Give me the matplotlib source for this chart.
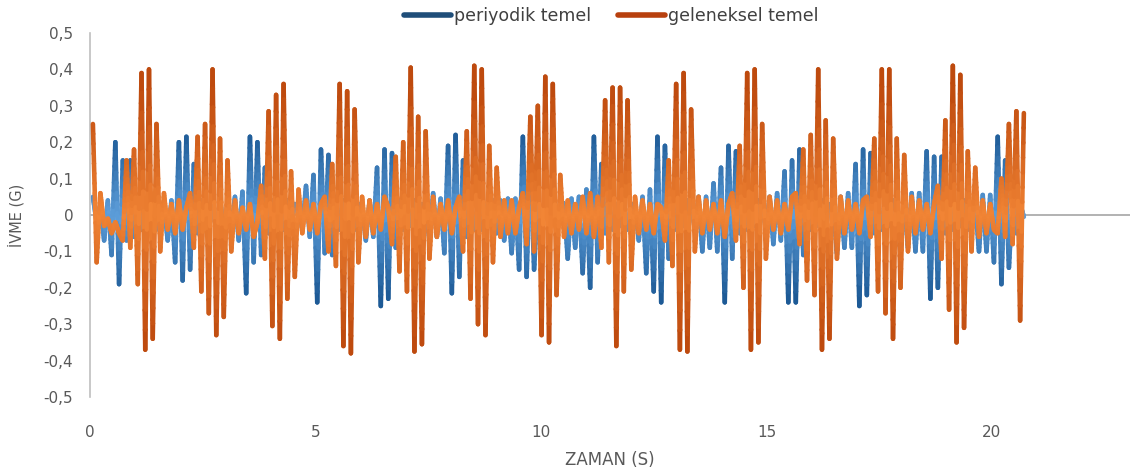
import numpy as np
import matplotlib
matplotlib.use("Agg")
import matplotlib.pyplot as plt
from matplotlib.lines import Line2D
from matplotlib.collections import LineCollection
from matplotlib.colors import to_rgb
from matplotlib.ticker import FuncFormatter

plt.rcParams['font.family'] = ['DejaVu Sans']

# sampling grid (s)
t_start = 0.0645
t_step = 0.0829
n_samples = 250

periyodik = [
    0.05, -0.02, 0.03, -0.07, 0.04, -0.11, 0.20, -0.19, 0.15, -0.07,
    0.15, -0.06, 0.05, -0.04, 0.04, -0.03, 0.03, -0.04, 0.03, 0.03,
    -0.07, 0.04, -0.13, 0.20, -0.18, 0.215, -0.15, 0.14, -0.05, 0.04,
    -0.04, 0.03, 0.02, -0.04, 0.04, -0.03, 0.03, -0.04, 0.05, -0.07,
    0.064, -0.215, 0.215, -0.13, 0.20, -0.11, 0.13, -0.05, 0.04, -0.04,
    0.03, -0.04, 0.04, -0.03, 0.03, 0.03, -0.04, 0.08, -0.06, 0.11,
    -0.24, 0.18, -0.105, 0.165, -0.11, 0.05, -0.04, 0.04, -0.03, 0.03,
    -0.04, 0.03, 0.03, -0.07, 0.04, -0.06, 0.13, -0.25, 0.18, -0.23,
    0.17, -0.09, 0.04, -0.04, 0.03, -0.03, 0.04, -0.04, 0.03, 0.03,
    -0.07, 0.06, -0.06, 0.045, -0.105, 0.19, -0.215, 0.22, -0.17, 0.15,
    -0.06, 0.03, -0.04, 0.03, -0.04, 0.03, -0.03, 0.04, -0.05, 0.04,
    -0.07, 0.045, -0.105, 0.045, -0.15, 0.215, -0.17, 0.15, -0.15, 0.05,
    -0.04, 0.04, -0.03, 0.03, -0.04, 0.04, 0.03, -0.12, 0.045, -0.09,
    0.05, -0.16, 0.07, -0.20, 0.215, -0.13, 0.14, -0.05, 0.04, -0.04,
    0.03, -0.03, 0.04, -0.04, 0.03, 0.03, -0.07, 0.05, -0.16, 0.07,
    -0.21, 0.215, -0.24, 0.19, -0.12, 0.04, -0.04, 0.03, -0.03, 0.04,
    0.03, -0.04, 0.05, -0.10, 0.05, -0.09, 0.087, -0.10, 0.13, -0.24,
    0.19, -0.12, 0.175, -0.05, 0.04, -0.04, 0.03, -0.03, 0.04, 0.03,
    -0.04, 0.05, -0.08, 0.06, -0.07, 0.12, -0.24, 0.15, -0.24, 0.18,
    -0.11, 0.04, -0.04, 0.03, -0.03, 0.04, -0.04, 0.03, 0.03, -0.105,
    0.05, -0.09, 0.06, -0.09, 0.14, -0.25, 0.18, -0.22, 0.17, -0.05,
    0.04, -0.04, 0.03, -0.03, 0.04, 0.03, -0.105, 0.04, -0.09, 0.06,
    -0.10, 0.06, -0.10, 0.175, -0.23, 0.16, -0.20, 0.16, -0.05, 0.04,
    -0.04, 0.03, -0.03, 0.04, -0.04, 0.03, 0.03, -0.10, 0.055, -0.10,
    0.055, -0.13, 0.215, -0.19, 0.15, -0.145, 0.05, -0.05, 0.03, -0.005,
]

geleneksel = [
    0.25, -0.13, 0.06, -0.03, -0.01, -0.05, -0.02, -0.05, -0.07, 0.15,
    -0.09, 0.18, -0.19, 0.39, -0.37, 0.40, -0.34, 0.25, -0.10, 0.06,
    -0.04, 0.03, -0.05, 0.04, -0.04, 0.02, 0.06, -0.09, 0.215, -0.21,
    0.25, -0.27, 0.40, -0.33, 0.21, -0.28, 0.15, -0.10, 0.04, -0.05,
    0.02, -0.04, 0.03, -0.06, -0.02, 0.08, -0.12, 0.285, -0.305, 0.33,
    -0.34, 0.36, -0.23, 0.12, -0.17, 0.07, -0.05, 0.04, -0.04, 0.03,
    -0.05, 0.03, 0.05, -0.10, 0.14, -0.14, 0.36, -0.36, 0.34, -0.38,
    0.29, -0.13, 0.05, -0.06, 0.04, -0.05, 0.03, -0.04, 0.05, 0.02,
    -0.08, 0.16, -0.155, 0.20, -0.21, 0.405, -0.375, 0.27, -0.355, 0.23,
    -0.12, 0.05, -0.06, 0.03, -0.04, 0.04, -0.05, 0.02, 0.05, -0.10,
    0.23, -0.23, 0.41, -0.30, 0.40, -0.33, 0.19, -0.13, 0.13, -0.06,
    0.04, -0.05, 0.04, -0.05, 0.02, 0.06, -0.08, 0.27, -0.10, 0.30,
    -0.33, 0.38, -0.35, 0.36, -0.22, 0.11, -0.06, 0.04, -0.05, 0.03,
    -0.04, 0.05, -0.05, 0.06, -0.06, 0.05, -0.09, 0.315, -0.13, 0.35,
    -0.36, 0.35, -0.21, 0.315, -0.15, 0.05, -0.05, 0.04, -0.04, 0.03,
    -0.05, 0.03, 0.02, -0.07, 0.15, -0.14, 0.36, -0.37, 0.39, -0.375,
    0.29, -0.10, 0.05, -0.05, 0.04, -0.04, 0.03, -0.05, 0.04, -0.06,
    0.03, 0.06, -0.07, 0.19, -0.20, 0.39, -0.37, 0.40, -0.35, 0.25,
    -0.12, 0.05, -0.04, 0.04, -0.05, 0.03, -0.04, 0.05, 0.06, -0.08,
    0.18, -0.18, 0.22, -0.22, 0.40, -0.37, 0.26, -0.34, 0.21, -0.12,
    0.05, -0.05, 0.04, -0.04, 0.03, -0.05, 0.04, 0.05, -0.06, 0.21,
    -0.21, 0.40, -0.27, 0.40, -0.34, 0.21, -0.20, 0.165, -0.10, 0.05,
    -0.05, 0.04, -0.04, 0.03, -0.05, 0.03, 0.08, -0.12, 0.26, -0.26,
    0.41, -0.35, 0.385, -0.31, 0.175, -0.10, 0.13, -0.06, 0.04, -0.05,
    0.03, -0.04, -0.05, 0.10, -0.06, 0.25, -0.08, 0.285, -0.29, 0.28,
]

series_names = ["periyodik temel", "geleneksel temel"]
x_ticks = [0, 5, 10, 15, 20]
y_ticks = [-0.5, -0.4, -0.3, -0.2, -0.1, 0, 0.1, 0.2, 0.3, 0.4, 0.5]

t = np.round(t_start + t_step * np.arange(n_samples), 4)

text_col = "#595959"


def gradient_line(ax, x, y, light, dark, full_at, lw, z):
    """Draw the polyline x,y with a vertical colour gradient (light near 0,
    dark toward the extremes), like the Excel gradient line."""
    x = np.asarray(x, float)
    y = np.asarray(y, float)
    k = 14
    f = np.linspace(0, 1, k + 1)
    xs = (x[:-1, None] + (x[1:, None] - x[:-1, None]) * f).ravel()
    ys = (y[:-1, None] + (y[1:, None] - y[:-1, None]) * f).ravel()
    pts = np.column_stack([xs, ys]).reshape(-1, 1, 2)
    segs = np.concatenate([pts[:-1], pts[1:]], axis=1)
    ym = np.abs(0.5 * (ys[:-1] + ys[1:]))
    w = np.clip(ym / full_at, 0, 1)[:, None] ** 0.9
    c0 = np.array(to_rgb(light))
    c1 = np.array(to_rgb(dark))
    cols = c0 * (1 - w) + c1 * w
    lc = LineCollection(segs, colors=cols, linewidths=lw, capstyle="round",
                        joinstyle="round", zorder=z)
    ax.add_collection(lc)


fig = plt.figure(figsize=(11.32, 4.69), dpi=100)
ax = fig.add_axes([90 / 1132, 72 / 469, 1040 / 1132, 364 / 469])

ax.axhline(0, color="#A6A6A6", lw=1.2, zorder=1)

gradient_line(ax, t, periyodik, "#5FA0DC", "#1D5A96", 0.22, 3.3, 2)
gradient_line(ax, t, geleneksel, "#F28535", "#BE4A0E", 0.34, 3.3, 4)

ax.set_xlim(0, 23.06)
ax.set_ylim(-0.5, 0.5)
ax.set_xticks(x_ticks)
ax.set_yticks(y_ticks)
ax.yaxis.set_major_formatter(FuncFormatter(
    lambda v, p: "0" if abs(v) < 1e-9 else f"{v:.1f}".replace(".", ",")))

for s in ["top", "right", "bottom"]:
    ax.spines[s].set_visible(False)
ax.spines["left"].set_color("#BFBFBF")
ax.spines["left"].set_linewidth(1.2)
ax.tick_params(axis="both", length=0, labelsize=11, labelcolor=text_col)
ax.tick_params(axis="x", pad=20)
ax.tick_params(axis="y", pad=12)

ax.set_xlabel("ZAMAN (S)", fontsize=12, color=text_col, labelpad=8)
ax.set_ylabel("İVME (G)", fontsize=10.5, color=text_col, labelpad=14)

handles = [Line2D([], [], color="#1F4E79", lw=4, solid_capstyle="round"),
           Line2D([], [], color="#B8400E", lw=4, solid_capstyle="round")]
fig.legend(handles, series_names, loc="center", bbox_to_anchor=(0.54, 0.966),
           ncol=2, frameon=False, fontsize=12.5, handlelength=2.7,
           columnspacing=1.6, handletextpad=0.15, labelcolor="#404040")

fig.savefig("out.png", dpi=100)
